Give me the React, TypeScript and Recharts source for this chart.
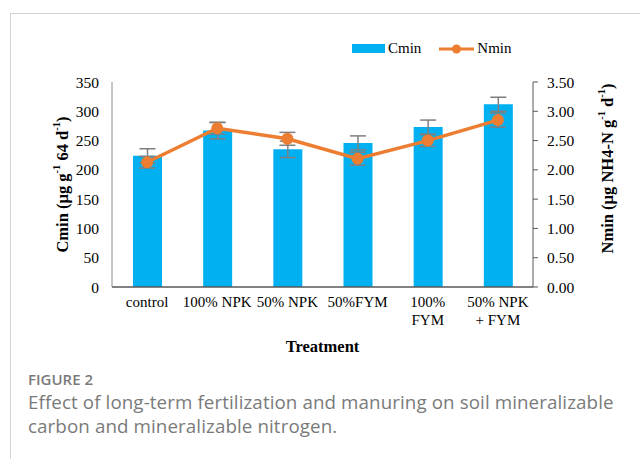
import React from "react";
import {
  ComposedChart,
  Bar,
  Line,
  XAxis,
  YAxis,
  Legend,
  ErrorBar,
  Label,
} from "recharts";

const categories = ["control", "100% NPK", "50% NPK", "50%FYM", "100%\nFYM", "50% NPK\n+ FYM"];
const cminValues = [224, 267, 235, 246, 273, 312];
const cminErrors = [12, 14, 14, 12, 12, 12];
const nminValues = [2.13, 2.71, 2.53, 2.19, 2.5, 2.85];
const nminErrors = [0.1, 0.1, 0.11, 0.11, 0.1, 0.12];
const leftTicks = [0, 50, 100, 150, 200, 250, 300, 350];
const rightTicks = [0, 0.5, 1, 1.5, 2, 2.5, 3, 3.5];

const data = categories.map((name, i) => ({
  name,
  Cmin: cminValues[i],
  cErr: cminErrors[i],
  Nmin: nminValues[i],
  nErr: nminErrors[i],
}));

const SERIF = "'Liberation Serif', 'Times New Roman', serif";
const BLUE = "#00B0F0";
const ORANGE = "#ED7D31";
const ERR = "#7f7f7f";

const XTick = (props: any) => {
  const { x, y, payload } = props;
  const lines = String(payload.value).split("\n");
  return (
    <text x={x} y={y} textAnchor="middle" fontFamily={SERIF} fontSize={15} fill="#000">
      {lines.map((l: string, i: number) => (
        <tspan key={i} x={x} dy={i === 0 ? 12 : 18}>
          {l}
        </tspan>
      ))}
    </text>
  );
};

const LeftLabel = (props: any) => {
  const vb = props.viewBox;
  const cx = vb.x + 62;
  const cy = vb.y + vb.height / 2;
  return (
    <text
      x={cx}
      y={cy}
      transform={`rotate(-90, ${cx}, ${cy})`}
      textAnchor="middle"
      dominantBaseline="central"
      fontFamily={SERIF}
      fontWeight="bold"
      fontSize={16.5}
      fill="#000"
    >
      <tspan>Cmin (µg g</tspan>
      <tspan fontSize={10.5} dy={-6}>-1</tspan>
      <tspan dy={6}> 64 d</tspan>
      <tspan fontSize={10.5} dy={-6}>-1</tspan>
      <tspan dy={6}>)</tspan>
    </text>
  );
};

const RightLabel = (props: any) => {
  const vb = props.viewBox;
  const cx = vb.x + 74;
  const cy = vb.y + vb.height / 2 - 16;
  return (
    <text
      x={cx}
      y={cy}
      transform={`rotate(-90, ${cx}, ${cy})`}
      textAnchor="middle"
      dominantBaseline="central"
      fontFamily={SERIF}
      fontWeight="bold"
      fontSize={16.5}
      fill="#000"
    >
      <tspan>Nmin (µg NH4-N g</tspan>
      <tspan fontSize={10.5} dy={-6}>-1</tspan>
      <tspan dy={6}> d</tspan>
      <tspan fontSize={10.5} dy={-6}>-1</tspan>
      <tspan dy={6}>)</tspan>
    </text>
  );
};

const XLabel = (props: any) => {
  const vb = props.viewBox;
  return (
    <text
      x={vb.x + vb.width / 2}
      y={vb.y + 65}
      textAnchor="middle"
      fontFamily={SERIF}
      fontWeight="bold"
      fontSize={16.5}
      fill="#000"
    >
      Treatment
    </text>
  );
};

const LegendContent = (props: any) => {
  const { payload } = props;
  return (
    <div style={{ display: "flex", alignItems: "center", fontFamily: SERIF, fontSize: 15, color: "#000" }}>
      {(payload || []).map((entry: any, i: number) => (
        <div key={i} style={{ display: "flex", alignItems: "center", marginRight: 18 }}>
          {entry.type === "line" ? (
            <svg width={35} height={12}>
              <line x1={0} y1={6} x2={35} y2={6} stroke={ORANGE} strokeWidth={3} />
              <circle cx={17.5} cy={6} r={4.5} fill={ORANGE} />
            </svg>
          ) : (
            <svg width={33} height={9}>
              <rect x={0} y={0} width={33} height={9} fill={BLUE} />
            </svg>
          )}
          <span style={{ marginLeft: 3 }}>{entry.value}</span>
        </div>
      ))}
    </div>
  );
};

export default function App() {
  return (
    <div
      style={{
        position: "absolute",
        left: 0,
        top: 0,
        width: 640,
        height: 459,
        overflow: "hidden",
        background: "#fff",
      }}
    >
      <div
        style={{
          position: "absolute",
          left: 10,
          top: 13,
          width: 700,
          height: 520,
          borderLeft: "1px solid #d3d3d3",
          borderTop: "1px solid #d3d3d3",
        }}
      />
      <div style={{ position: "absolute", left: 0, top: 0 }}>
        <ComposedChart
          width={640}
          height={370}
          data={data}
          margin={{ top: 82, right: 0, bottom: 23, left: 0 }}
        >
          <XAxis
            dataKey="name"
            xAxisId="x"
            height={60}
            tickLine={false}
            axisLine={{ stroke: "#595959", strokeWidth: 1.5 }}
            tick={<XTick />}
            interval={0}
          >
            <Label content={<XLabel />} />
          </XAxis>
          <YAxis
            yAxisId="left"
            orientation="left"
            width={112}
            domain={[0, 350]}
            ticks={leftTicks}
            tickLine={false}
            tickSize={6}
            tickMargin={7}
            axisLine={{ stroke: "#8c8c8c", strokeWidth: 1 }}
            tick={{ fontFamily: SERIF, fontSize: 15.5, fill: "#000" }}
          >
            <Label content={<LeftLabel />} />
          </YAxis>
          <YAxis
            yAxisId="right"
            orientation="right"
            width={107}
            domain={[0, 3.5]}
            ticks={rightTicks}
            tickSize={5}
            tickMargin={9}
            tickFormatter={(v: number) => v.toFixed(2)}
            tickLine={{ stroke: "#595959" }}
            axisLine={{ stroke: "#595959", strokeWidth: 1 }}
            tick={{ fontFamily: SERIF, fontSize: 15.5, fill: "#000" }}
          >
            <Label content={<RightLabel />} />
          </YAxis>
          <Legend
            layout="horizontal"
            verticalAlign="middle"
            align="center"
            wrapperStyle={{ top: 40, left: 352, width: "auto" }}
            content={<LegendContent />}
          />
          <Bar
            dataKey="Cmin"
            xAxisId="x"
            yAxisId="left"
            fill={BLUE}
            barSize={29}
            isAnimationActive={false}
            legendType="rect"
          >
            <ErrorBar dataKey="cErr" width={8} stroke={ERR} strokeWidth={1.5} direction="y" />
          </Bar>
          <Line
            dataKey="Nmin"
            xAxisId="x"
            yAxisId="right"
            stroke={ORANGE}
            strokeWidth={3.5}
            dot={{ r: 6, fill: ORANGE, stroke: ORANGE, strokeWidth: 0 }}
            activeDot={false}
            isAnimationActive={false}
            legendType="line"
          >
            <ErrorBar dataKey="nErr" width={8} stroke={ERR} strokeWidth={1.5} direction="y" />
          </Line>
        </ComposedChart>
      </div>
      <div
        style={{
          position: "absolute",
          left: 28,
          top: 369,
          fontFamily: "'Open Sans', 'Noto Sans', sans-serif",
          fontSize: 15,
          fontWeight: 600,
          color: "#7a7a7a",
        }}
      >
        FIGURE 2
      </div>
      <div
        style={{
          position: "absolute",
          left: 28,
          top: 390,
          width: 590,
          fontFamily: "'Open Sans', 'Noto Sans', sans-serif",
          fontSize: 18.75,
          letterSpacing: 0.1,
          lineHeight: "24px",
          color: "#7a7a7a",
        }}
      >
        Effect of long-term fertilization and manuring on soil mineralizable carbon and mineralizable nitrogen.
      </div>
    </div>
  );
}
